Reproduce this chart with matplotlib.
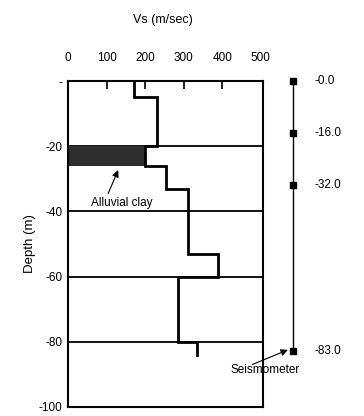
import matplotlib
matplotlib.use("Agg")
import matplotlib.pyplot as plt

plt.rcParams['font.family'] = ['Liberation Sans', 'DejaVu Sans']

# layer boundaries (m) and shear wave velocity of each layer (m/sec)
depth_top = [0, -5, -20, -26, -33, -53, -60, -80]
depth_bot = [-5, -20, -26, -33, -53, -60, -80, -84]
vs = [170, 230, 200, 255, 310, 390, 285, 335]

grid_depths = [-20, -40, -60, -80]
xticks = [0, 100, 200, 300, 400, 500]
yticks = [0, -20, -40, -60, -80, -100]
ylabels = ["-", "-20", "-40", "-60", "-80", "-100"]

# instrument positions
sensor_depths = [0, -16, -32, -83]
sensor_labels = ["-0.0", "-16.0", "-32.0", "-83.0"]

clay_layer = 2  # index of the alluvial clay layer

fig = plt.figure(figsize=(3.64, 4.16), dpi=100)
ax = fig.add_axes([0.187, 0.022, 0.536, 0.783])

# step profile
xs, ys = [], []
for v, t, b in zip(vs, depth_top, depth_bot):
    xs += [v, v]
    ys += [t, b]
ax.plot(xs, ys, color="black", lw=2, solid_joinstyle="miter", zorder=3)

# shaded alluvial clay
ax.fill_betweenx([depth_top[clay_layer], depth_bot[clay_layer]], 0, vs[clay_layer],
                 facecolor="#2e2e2e", edgecolor="none", zorder=2)

for d in grid_depths:
    ax.axhline(d, color="black", lw=1.3, zorder=1)

ax.set_xlim(0, 506)
ax.set_ylim(-100, 0)
ax.xaxis.tick_top()
ax.set_xticks(xticks)
ax.tick_params(axis="x", direction="in", length=6, width=1.2, pad=12, labelsize=8.5)
for t in (ax.xaxis.get_major_ticks()[0], ax.xaxis.get_major_ticks()[-1]):
    t.tick2line.set_visible(False)
ax.set_yticks(yticks)
ax.set_yticklabels(ylabels)
ax.tick_params(axis="y", length=0, pad=4, labelsize=8.5)
for s in ax.spines.values():
    s.set_linewidth(1.5)

ax.set_ylabel("Depth (m)", fontsize=9.5, labelpad=2)
fig.text(0.448, 0.952, "Vs (m/sec)", ha="center", va="center", fontsize=9)

# sensor column on the right
sx = 584
ax.plot([sx] * len(sensor_depths), sensor_depths, color="black", lw=1,
        marker="s", ms=5, clip_on=False, zorder=4)
for d, lab in zip(sensor_depths, sensor_labels):
    ax.text(sx + 55, d, lab, ha="left", va="center", fontsize=8.5, clip_on=False)

ax.text(138, -37.5, "Alluvial clay", ha="center", va="center", fontsize=8.5)
ax.annotate("", xy=(130, -27.3), xytext=(104, -34.5),
            arrowprops=dict(arrowstyle="-|>", color="black", lw=0.8,
                            shrinkA=0, shrinkB=0, mutation_scale=10))
ax.text(512, -88.8, "Seismometer", ha="center", va="center", fontsize=8.5,
        clip_on=False)
ax.annotate("", xy=(sx - 14, -82.5), xytext=(478, -87.0), annotation_clip=False,
            arrowprops=dict(arrowstyle="-|>", color="black", lw=0.8,
                            shrinkA=0, shrinkB=0, mutation_scale=10))

fig.savefig("out.png", dpi=100)
